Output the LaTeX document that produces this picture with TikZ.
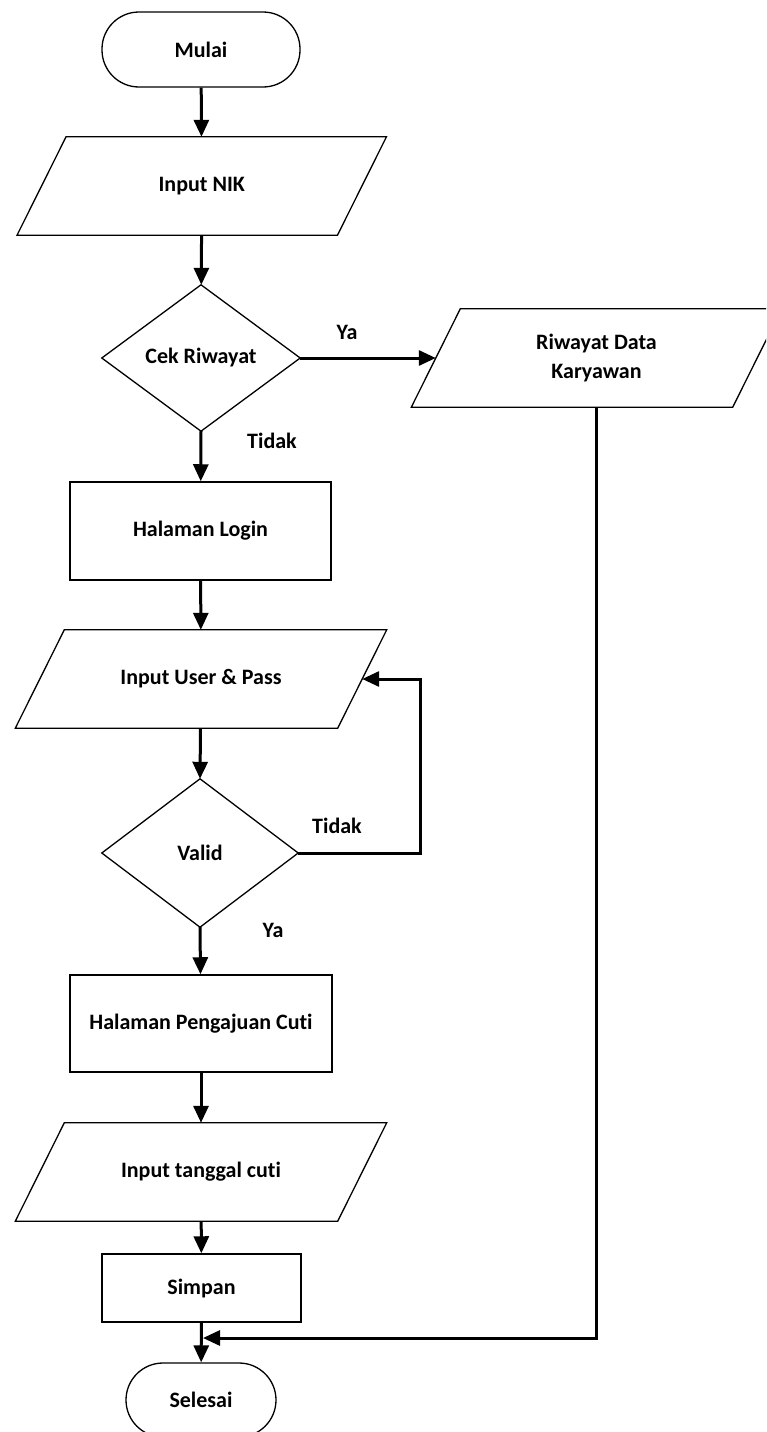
\documentclass[tikz,border=0pt]{standalone}
\usepackage{fontspec}
\setmainfont[Ligatures=NoCommon]{Carlito}
\usetikzlibrary{arrows.meta,calc}
\tikzset{
  base/.style={font=\bfseries\fontsize{22}{29}\selectfont, text=black, inner sep=0pt, align=center},
  term/.style={base, draw, line width=1.3pt, rounded corners=37pt},
  proc/.style={base, draw, line width=1.5pt},
  io/.style={base, minimum height=98pt},
  dec/.style={base},
  arr/.style={line width=3pt, -{Triangle[length=17pt,width=15pt]}},
  edge/.style={line width=1.3pt, line join=miter},
  lbl/.style={font=\bfseries\fontsize{22}{26}\selectfont, text=black, inner sep=0pt}
}
\begin{document}
\begin{tikzpicture}[x=1pt,y=-1pt]
\path[use as bounding box] (0,0) rectangle (766,1432);
\clip (0,0) rectangle (766,1432);
% nodes
\node[term, minimum width=198pt, minimum height=75pt] (mulai) at (201,49.5) {Mulai};
\node[io, minimum width=320pt] (nik) at (201.75,186) {Input NIK};
\node[dec, minimum width=198pt, minimum height=146pt] (cek) at (201,358) {Cek Riwayat};
\node[io, minimum width=321pt] (rdk) at (596.5,358) {Riwayat Data\\Karyawan};
\node[proc, minimum width=261pt, minimum height=98pt] (login) at (200.5,531) {Halaman Login};
\node[io, minimum width=322pt] (iup) at (201,679) {Input User \& Pass};
\node[dec, minimum width=196pt, minimum height=148pt] (valid) at (200,853) {Valid};
\node[proc, minimum width=262pt, minimum height=97pt] (hpc) at (201,1023.5) {Halaman Pengajuan Cuti};
\node[io, minimum width=322pt] (itc) at (201,1172) {Input tanggal cuti};
\node[proc, minimum width=199pt, minimum height=68pt] (simpan) at (201.5,1288) {Simpan};
\node[term, minimum width=150pt, minimum height=74pt] (selesai) at (201,1400) {Selesai};
% parallelogram outlines
\foreach \n in {nik,rdk,iup,itc}
  \draw[edge] ([xshift=24.5pt]\n.north west) -- ([xshift=24.5pt]\n.north east)
     -- ([xshift=-24.5pt]\n.south east) -- ([xshift=-24.5pt]\n.south west) -- cycle;
% diamond outlines
\foreach \n in {cek,valid}
  \draw[edge] (\n.north) -- (\n.east) -- (\n.south) -- (\n.west) -- cycle;
% labels
\node[lbl] (ya1) at (347,332) {Ya};
\node[lbl] (tidak1) at (272,441) {Tidak};
\node[lbl] (tidak2) at (337,826) {Tidak};
\node[lbl] (ya2) at (273,930) {Ya};
% connectors
\draw[arr] (mulai) -- (nik);
\draw[arr] (nik) -- (cek);
\draw[arr] (cek.east) -- (rdk.west);
\draw[arr] (cek.south) -- (login);
\draw[arr] (login) -- (iup);
\draw[arr] (iup) -- (valid.north);
\draw[arr] (valid.east) -| ([xshift=58pt]iup.east) -- (iup.east);
\draw[arr] (valid.south) -- (hpc);
\draw[arr] (hpc) -- (itc);
\draw[arr] (itc) -- (simpan);
\draw[arr] (simpan) -- (selesai);
\coordinate (join) at (203,1338);
\draw[arr] (rdk.south) |- (join);
\end{tikzpicture}
\end{document}
